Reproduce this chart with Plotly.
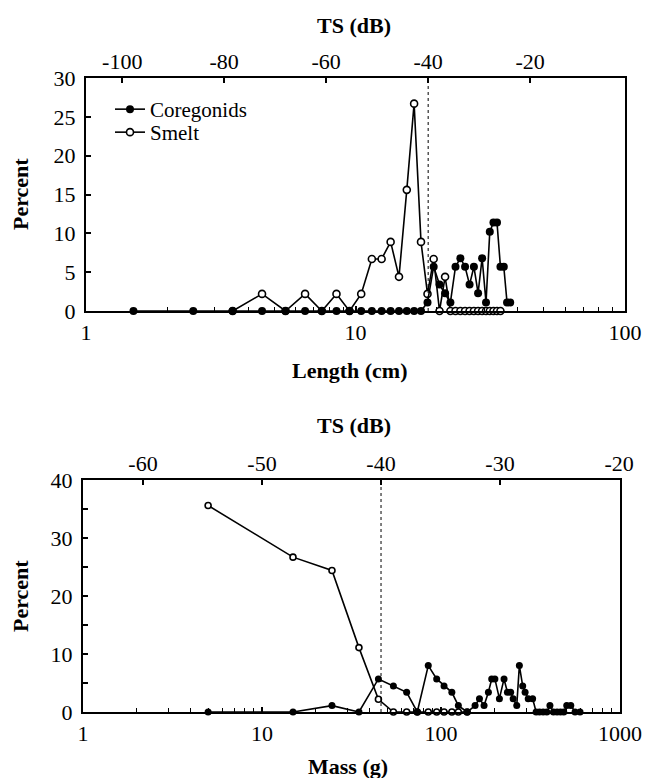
import plotly.graph_objects as go

# ---------------- data ----------------
# Top panel: length bins (cm)
length_cm = [1.5, 2.5, 3.5, 4.5, 5.5, 6.5, 7.5, 8.5, 9.5, 10.5, 11.5, 12.5, 13.5,
             14.5, 15.5, 16.5, 17.5, 18.5, 19.5, 20.5, 21.5, 22.5, 23.5, 24.5,
             25.5, 26.5, 27.5, 28.5, 29.5, 30.5, 31.5, 32.5, 33.5, 34.5, 35.5,
             36.5, 37.5]
coregonids_len = [0, 0, 0, 0, 0, 0, 0, 0, 0, 0, 0, 0, 0, 0, 0, 0, 0,
                  1.1, 5.7, 3.4, 2.3, 1.1, 5.7, 6.8, 5.7, 3.4, 5.7, 2.3, 6.8,
                  1.1, 10.2, 11.4, 11.4, 5.7, 5.7, 1.1, 1.1]
smelt_len = [None, None, 0, 2.2, 0, 2.2, 0, 2.2, 0, 2.2, 6.7, 6.7, 8.9, 4.4,
             15.6, 26.7, 8.9, 2.2, 6.7, 0, 4.4, 0, 0, 0, 0, 0, 0, 0, 0, 0, 0,
             0, 0, 0, None, None, None]

# Bottom panel: mass bins (g)
mass_g = [5.0, 14.9, 24.6, 34.8, 44.7, 54.2, 64.3, 73.7, 84.9, 94.6, 104, 115,
          125, 140, 155, 164, 174, 184, 192, 200, 212, 225, 235, 245, 253, 265,
          274, 286, 295, 307, 325, 340, 355, 372, 390, 406, 425, 445, 465, 485,
          504, 531, 561, 598]
coregonids_mass = [0, 0, 1.1, 0, 5.7, 4.5, 3.4, 0, 8.0, 5.7, 4.5, 3.4, 1.1, 0,
                   1.1, 2.3, 1.1, 3.4, 5.7, 5.7, 2.3, 5.7, 3.4, 3.4, 2.3, 1.1,
                   8.0, 4.5, 3.4, 2.3, 2.3, 0, 0, 0, 0, 1.1, 0, 0, 0, 0, 1.1,
                   1.1, 0, 0]
smelt_mass = [35.6, 26.7, 24.4, 11.1, 2.2, 0, 0, 0, 0, 0, 0, 0, 0, 0] + [None] * 30

ts_threshold = -40
top_ts_ticks = [-100, -80, -60, -40, -20]
top_ts_labels = ["-100", "-80", "-60", "-40", "-20"]
bottom_ts_ticks = [-60, -50, -40, -30, -20]
bottom_ts_labels = ["-60", "-50", "-40", "-30", "-20"]

# ---------------- figure ----------------
W, H = 650, 778
OFFSET = 8  # page body margin
FONT = "Liberation Serif"
TICKFONT = dict(family=FONT, size=22, color="black")

fig = go.Figure()

def open_marker(size):
    return dict(symbol="circle", size=size, color="white",
                line=dict(color="black", width=1.6))

def filled_marker(size):
    return dict(symbol="circle", size=size, color="black",
                line=dict(color="black", width=0))

# Top panel traces (smelt drawn first, coregonids on top)
fig.add_trace(go.Scatter(x=length_cm, y=smelt_len, mode="lines+markers",
                         name="Smelt", line=dict(color="black", width=1.6),
                         marker=open_marker(7), xaxis="x", yaxis="y",
                         cliponaxis=False, legend="legend2"))
fig.add_trace(go.Scatter(x=length_cm, y=coregonids_len, mode="lines+markers",
                         name="Coregonids", line=dict(color="black", width=1.6),
                         marker=filled_marker(8), xaxis="x", yaxis="y",
                         cliponaxis=False, legend="legend"))
# Bottom panel traces
fig.add_trace(go.Scatter(x=mass_g, y=smelt_mass, mode="lines+markers",
                         name="Smelt", line=dict(color="black", width=1.6),
                         marker=open_marker(6), xaxis="x3", yaxis="y2",
                         cliponaxis=False, showlegend=False))
fig.add_trace(go.Scatter(x=mass_g, y=coregonids_mass, mode="lines+markers",
                         name="Coregonids", line=dict(color="black", width=1.6),
                         marker=filled_marker(7), xaxis="x3", yaxis="y2",
                         cliponaxis=False, showlegend=False))

def px_x(p):
    return (p - OFFSET) / W

def px_y(p):
    return 1 - (p - OFFSET) / H

top_xdom = [px_x(86), px_x(625)]
top_ydom = [px_y(311), px_y(78)]
bot_xdom = [px_x(83), px_x(620)]
bot_ydom = [px_y(712), px_y(480)]

minor_log_2 = [2, 3, 4, 5, 6, 7, 8, 9, 20, 30, 40, 50, 60, 70, 80, 90]
minor_log_3 = minor_log_2 + [200, 300, 400, 500, 600, 700, 800, 900]

common_axis = dict(showgrid=False, zeroline=False, color="black",
                   linecolor="black", tickfont=TICKFONT, ticks="inside",
                   tickcolor="black", tickwidth=1.5, automargin=False)

fig.update_layout(
    width=W, height=H,
    margin=dict(l=0, r=0, t=0, b=0, pad=0, autoexpand=False),
    paper_bgcolor="white", plot_bgcolor="white",
    font=dict(family=FONT, size=22, color="black"),
    xaxis=dict(common_axis, type="log", range=[0, 2], domain=top_xdom,
               anchor="y", showline=True, mirror=True, linewidth=2,
               tickvals=[1, 10, 100], ticktext=["1", "10", "100"], ticklen=5,
               ticklabelstandoff=1,
               minor=dict(tickvals=minor_log_2, ticks="inside", ticklen=4,
                          tickcolor="black", tickwidth=1.2)),
    xaxis2=dict(common_axis, overlaying="x", side="top", anchor="y",
                range=[-107.1, -1.4], tickvals=top_ts_ticks,
                ticktext=top_ts_labels, ticklen=5,
                showline=False, ticklabelstandoff=4),
    yaxis=dict(common_axis, range=[0, 30], domain=top_ydom, anchor="x",
               showline=True, mirror=True, linewidth=2,
               tickvals=[0, 5, 10, 15, 20, 25, 30], ticklen=5,
               ticklabelstandoff=4),
    xaxis3=dict(common_axis, type="log", range=[0, 3], domain=bot_xdom,
                anchor="y2", showline=True, mirror=True, linewidth=2,
                tickvals=[1, 10, 100, 1000],
                ticktext=["1", "10", "100", "1000"], ticklen=5,
                ticklabelstandoff=1,
                minor=dict(tickvals=minor_log_3, ticks="inside", ticklen=4,
                           tickcolor="black", tickwidth=1.2)),
    xaxis4=dict(common_axis, overlaying="x3", side="top", anchor="y2",
                range=[-65.04, -19.92], tickvals=bottom_ts_ticks,
                ticktext=bottom_ts_labels, ticklen=5,
                showline=False, ticklabelstandoff=4),
    yaxis2=dict(common_axis, range=[0, 40], domain=bot_ydom, anchor="x3",
                showline=True, mirror=True, linewidth=2,
                tickvals=[0, 10, 20, 30, 40], ticklen=5, ticklabelstandoff=4,
                minor=dict(tickvals=[5, 15, 25, 35], ticks="inside",
                           ticklen=5, tickcolor="black", tickwidth=1.5)),
    legend=dict(x=px_x(110), y=px_y(89), xanchor="left", yanchor="top",
                bgcolor="rgba(0,0,0,0)", borderwidth=0,
                font=dict(family=FONT, size=21, color="black")),
    legend2=dict(x=px_x(110), y=px_y(112), xanchor="left", yanchor="top",
                 bgcolor="rgba(0,0,0,0)", borderwidth=0,
                 font=dict(family=FONT, size=21, color="black")),
)

# dotted threshold lines at TS = -40 dB
fig.add_shape(type="line", xref="x2", yref="y domain", x0=ts_threshold,
              x1=ts_threshold, y0=0, y1=1,
              line=dict(color="black", width=1, dash="dot"))
fig.add_shape(type="line", xref="x4", yref="y2 domain", x0=ts_threshold,
              x1=ts_threshold, y0=0, y1=1,
              line=dict(color="black", width=1, dash="dot"))

def title(text, x, y, angle=0):
    fig.add_annotation(text="<b>%s</b>" % text, xref="paper", yref="paper",
                       x=px_x(x), y=px_y(y), xanchor="center",
                       yanchor="middle", showarrow=False, textangle=angle,
                       font=dict(family=FONT, size=22, color="black"))

title("TS (dB)", 354, 25)
title("Length (cm)", 349, 370)
title("Percent", 20, 194, -90)
title("TS (dB)", 354, 425)
title("Mass (g)", 348, 766)
title("Percent", 20, 596, -90)

fig.write_html("out.html")
